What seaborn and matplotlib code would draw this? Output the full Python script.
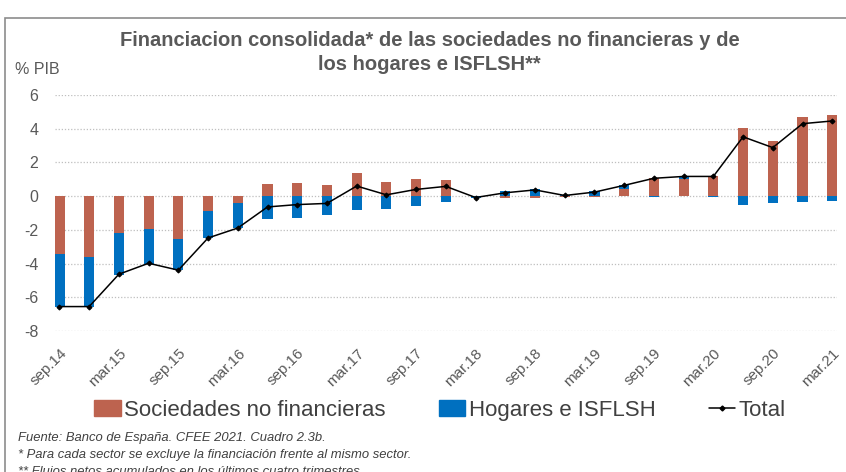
import numpy as np
import pandas as pd
import matplotlib
matplotlib.use("Agg")
import matplotlib.pyplot as plt
import seaborn as sns
from matplotlib.patches import Patch, Rectangle
from matplotlib.lines import Line2D

# Data (% PIB), quarterly sep.14 -> mar.21
quarters = ["sep.14", "dic.14", "mar.15", "jun.15", "sep.15", "dic.15", "mar.16", "jun.16",
            "sep.16", "dic.16", "mar.17", "jun.17", "sep.17", "dic.17", "mar.18", "jun.18",
            "sep.18", "dic.18", "mar.19", "jun.19", "sep.19", "dic.19", "mar.20", "jun.20",
            "sep.20", "dic.20", "mar.21"]
sociedades = [-3.45, -3.60, -2.17, -1.97, -2.52, -0.86, -0.40, 0.72,
              0.78, 0.66, 1.39, 0.85, 0.99, 0.93, 0.02, -0.08,
              -0.08, -0.05, -0.06, 0.40, 1.10, 0.99, 1.21, 4.02,
              3.28, 4.71, 4.81]
hogares = [-3.10, -2.95, -2.48, -2.03, -1.89, -1.64, -1.49, -1.36,
           -1.27, -1.10, -0.81, -0.74, -0.60, -0.36, -0.10, 0.28,
           0.44, 0.08, 0.30, 0.24, -0.05, 0.18, -0.05, -0.50,
           -0.40, -0.34, -0.28]
total = [-6.55, -6.55, -4.63, -3.98, -4.39, -2.48, -1.89, -0.64,
         -0.50, -0.43, 0.60, 0.08, 0.40, 0.58, -0.08, 0.20,
         0.37, 0.04, 0.24, 0.64, 1.06, 1.17, 1.17, 3.52,
         2.88, 4.30, 4.46]
tick_labels = ["sep.14", "mar.15", "sep.15", "mar.16", "sep.16", "mar.17", "sep.17",
               "mar.18", "sep.18", "mar.19", "sep.19", "mar.20", "sep.20", "mar.21"]

RED = "#BD634F"
BLUE = "#0070C0"
GREY = "#595959"

sns.set_theme(style="white")
plt.rcParams["font.family"] = ["Liberation Sans", "DejaVu Sans"]
plt.rcParams["axes.unicode_minus"] = False

df = pd.DataFrame({"quarter": quarters, "soc": sociedades, "hog": hogares, "total": total})
# Excel-style stacking: positives and negatives pile up separately
df["hog_bottom"] = np.where(np.sign(df["hog"]) == np.sign(df["soc"]), df["soc"], 0.0)

fig = plt.figure(figsize=(8.46, 4.72), dpi=100)
ax = fig.add_axes([0.065, 0.2987, 0.924, 0.5])

sns.barplot(data=df, x="quarter", y="soc", color=RED, width=0.34, saturation=1,
            ax=ax, linewidth=0)
sns.barplot(data=df, x="quarter", y="hog", color=BLUE, width=0.34, saturation=1,
            ax=ax, linewidth=0, bottom=df["hog_bottom"].values)
sns.pointplot(data=df, x="quarter", y="total", color="black", markers="D",
              markersize=2.5, linewidth=1.1, ax=ax)

ax.set_ylim(-8, 6)
ax.set_xlim(-0.15, 26.15)
ax.set_yticks(range(-8, 7, 2))
ax.yaxis.grid(True, linestyle=(0, (1, 1.5)), color="#BFBFBF", linewidth=0.9)
ax.xaxis.grid(False)
ax.set_axisbelow(True)
for s in ax.spines.values():
    s.set_visible(False)
ax.set_xlabel("")
ax.set_ylabel("")
ax.set_xticks(range(0, 27, 2))
ax.set_xticklabels(tick_labels, rotation=45, ha="right", rotation_mode="anchor",
                   fontsize=11, color=GREY)
ax.tick_params(axis="x", length=0, pad=11)
ax.tick_params(axis="y", length=0, pad=12, labelsize=11.5, labelcolor=GREY)

fig.text(0.508, 0.914, "Financiacion consolidada* de las sociedades no financieras y de",
         ha="center", va="center", fontsize=14.5, fontweight="bold", color=GREY)
fig.text(0.508, 0.864, "los hogares e ISFLSH**",
         ha="center", va="center", fontsize=14.5, fontweight="bold", color=GREY)
fig.text(0.018, 0.852, "% PIB", ha="left", va="center", fontsize=11.5, color=GREY)

handles = [Patch(color=RED), Patch(color=BLUE),
           Line2D([0], [0], color="black", lw=1.1, marker="D", markersize=2.5)]
fig.legend(handles, ["Sociedades no financieras", "Hogares e ISFLSH", "Total"],
           loc="center", bbox_to_anchor=(0.52, 0.131), ncol=3, frameon=False,
           fontsize=16, handlelength=1.2, handleheight=0.75, handletextpad=0.15,
           columnspacing=2.4, labelcolor="#404040")

notes = ["Fuente: Banco de España. CFEE 2021. Cuadro 2.3b.",
         "* Para cada sector se excluye la financiación frente al mismo sector.",
         "** Flujos netos acumulados en los últimos cuatro trimestres."]
for i, t in enumerate(notes):
    fig.text(0.021, 0.073 - i * 0.037, t, ha="left", va="center", fontsize=9.4,
             style="italic", color="#404040")

fig.patches.append(Rectangle((0.006, -0.1), 1.1, 1.062, transform=fig.transFigure,
                             fill=False, edgecolor="#8C8C8C", linewidth=1.2))

fig.savefig("out.png", dpi=100)
